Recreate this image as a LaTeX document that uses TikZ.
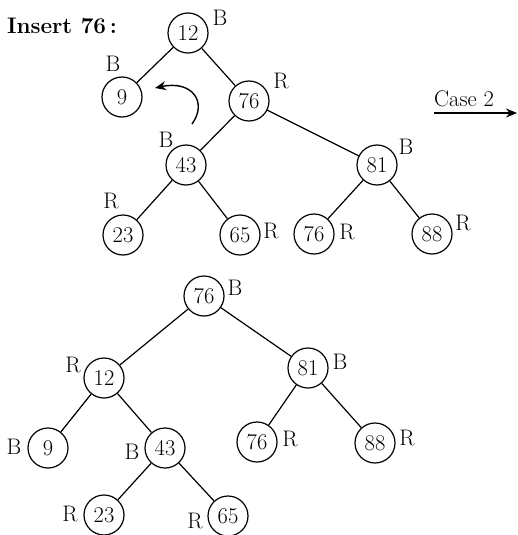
\documentclass[tikz,border=0pt]{standalone}
\usepackage{tikz}
\usetikzlibrary{arrows.meta}
\tikzset{
  vtx/.style ={circle, draw, line width=1.2pt, minimum size=40pt, inner sep=0pt,
               font=\fontsize{22.5}{26}\selectfont},
  clr/.style ={inner sep=0pt, font=\fontsize{22.5}{26}\selectfont},
  edg/.style ={line width=1.2pt},
  fl/.style  ={-{Stealth[length=11pt,width=9pt]}, line width=1.4pt}
}

\begin{document}
\begin{tikzpicture}[x=1pt, y=-1pt]
  \useasboundingbox (0,0) rectangle (517,535);
  \node[clr, font=\fontsize{22.5}{26}\selectfont\bfseries] (title) at (62,26) {Insert 76\,:};

  % tree before rotation
  \node[vtx] (a12) at (188,33)  {12};
  \node[vtx] (a9)  at (122,97)  {9};
  \node[vtx] (a76) at (249,101) {76};
  \node[vtx] (a43) at (186,165) {43};
  \node[vtx] (a81) at (377,165) {81};
  \node[vtx] (a23) at (123,235) {23};
  \node[vtx] (a65) at (240,235) {65};
  \node[vtx] (a76b) at (314,234) {76};
  \node[vtx] (a88) at (432,234) {88};
  \node[clr] (ca12) at (220,18)  {B};
  \node[clr] (ca9)  at (113,64)  {B};
  \node[clr] (ca76) at (281,81)  {R};
  \node[clr] (ca43) at (166,140) {B};
  \node[clr] (ca81) at (406,147) {B};
  \node[clr] (ca23) at (111,201) {R};
  \node[clr] (ca65) at (271,231) {R};
  \node[clr] (ca76b) at (347,232) {R};
  \node[clr] (ca88) at (463,223) {R};
  \draw[edg] (a12)--(a9);  \draw[edg] (a12)--(a76);
  \draw[edg] (a76)--(a43); \draw[edg] (a76)--(a81);
  \draw[edg] (a43)--(a23); \draw[edg] (a43)--(a65);
  \draw[edg] (a81)--(a76b); \draw[edg] (a81)--(a88);

  % rotation hint
  \coordinate (rotS) at (192,124);
  \coordinate (rotE) at (155,88);
  \draw[fl] (rotS) .. controls (208,102) and (192,80) .. (rotE);

  % case arrow
  \node[clr] (case) at (464,99) {Case 2};
  \coordinate (caseS) at (434,113);
  \coordinate (caseE) at (517,113);
  \draw[fl] (caseS) -- (caseE);

  % tree after rotation
  \node[vtx] (b76) at (204,296) {76};
  \node[vtx] (b12) at (104,378) {12};
  \node[vtx] (b81) at (308,368) {81};
  \node[vtx] (b9)  at (48,448)  {9};
  \node[vtx] (b43) at (165,448) {43};
  \node[vtx] (b76b) at (257,442) {76};
  \node[vtx] (b88) at (375,443) {88};
  \node[vtx] (b23) at (104,515) {23};
  \node[vtx] (b65) at (228,516) {65};
  \node[clr] (cb76) at (235,288) {B};
  \node[clr] (cb12) at (73,365)  {R};
  \node[clr] (cb81) at (340,362) {B};
  \node[clr] (cb9)  at (14,447)  {B};
  \node[clr] (cb43) at (132,452) {B};
  \node[clr] (cb76b) at (290,439) {R};
  \node[clr] (cb88) at (407,438) {R};
  \node[clr] (cb23) at (70,514)  {R};
  \node[clr] (cb65) at (195,521) {R};
  \draw[edg] (b76)--(b12); \draw[edg] (b76)--(b81);
  \draw[edg] (b12)--(b9);  \draw[edg] (b12)--(b43);
  \draw[edg] (b43)--(b23); \draw[edg] (b43)--(b65);
  \draw[edg] (b81)--(b76b); \draw[edg] (b81)--(b88);
\end{tikzpicture}
\end{document}
